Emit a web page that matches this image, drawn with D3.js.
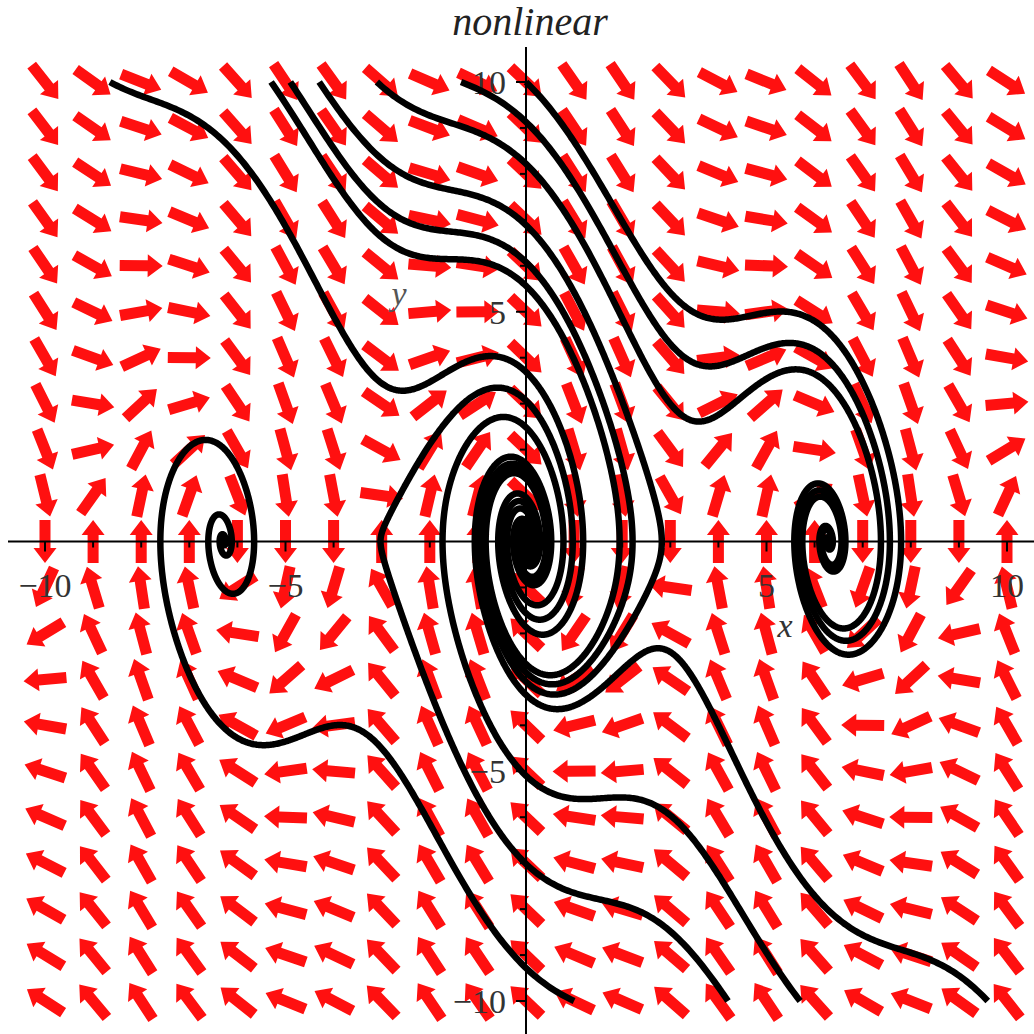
<!DOCTYPE html>
<html>
<head>
<meta charset="utf-8">
<script src="https://cdn.jsdelivr.net/npm/d3@7"></script>
<style>
  html, body { margin: 0; padding: 0; background: #fff; }
  svg { display: block; }
  text { font-family: "Liberation Serif", "DejaVu Serif", serif; }
</style>
</head>
<body>
<svg id="chart" width="1034" height="1034"></svg>
<script>
// damped pendulum: x' = y, y' = -gravity*sin(x) - damping*y
const damping = 1;
const gravity = 6;

// grid of direction-field arrows
const fieldX = [-10, -9, -8, -7, -6, -5, -4, -3, -2, -1, 0, 1, 2, 3, 4, 5, 6, 7, 8, 9, 10];
const fieldY = [-10, -9, -8, -7, -6, -5, -4, -3, -2, -1, 0, 1, 2, 3, 4, 5, 6, 7, 8, 9, 10];

// initial conditions of the solution curves [x0, y0]
const startsTop = [[-8.65, 10], [-5.3, 10], [-4.9, 10], [-4.3, 10], [-3.1, 10], [-1.35, 10], [0, 10]];
const startsBottom = [[1.0, -10], [4.2, -10], [5.7, -10], [9.6, -10]];

const majorTicks = [-10, -5, 5, 10];
const minorTicks = [-10, -9, -8, -7, -6, -5, -4, -3, -2, -1, 1, 2, 3, 4, 5, 6, 7, 8, 9, 10];

const svg = d3.select('#chart');
const x = d3.scaleLinear().domain([-10, 10]).range([45, 1007]);
const y = d3.scaleLinear().domain([-10, 10]).range([1001, 82]);

const field = (px, py) => [py, -gravity * Math.sin(px) - damping * py];

// arrows
const arrowLen = 43, shaftW = 11, headW = 23, headLen = 15;
const arrowPath = () => {
  const h = arrowLen / 2;
  return `M${-h},${-shaftW / 2}L${h - headLen},${-shaftW / 2}L${h - headLen},${-headW / 2}` +
    `L${h},0L${h - headLen},${headW / 2}L${h - headLen},${shaftW / 2}L${-h},${shaftW / 2}Z`;
};
const grid = [];
fieldX.forEach(gx => fieldY.forEach(gy => grid.push([gx, gy])));
svg.append('g')
  .selectAll('path')
  .data(grid)
  .enter()
  .append('path')
  .attr('d', arrowPath())
  .attr('fill', '#ff1010')
  .attr('transform', d => {
    const [vx, vy] = field(d[0], d[1]);
    const dx = x(d[0] + vx * 1e-3) - x(d[0]);
    const dy = y(d[1] + vy * 1e-3) - y(d[1]);
    const ang = Math.atan2(dy, dx) * 180 / Math.PI;
    return `translate(${x(d[0])},${y(d[1])}) rotate(${ang})`;
  });

// axes
const axes = svg.append('g').attr('stroke', '#000').attr('stroke-width', 2);
axes.append('line').attr('x1', 8).attr('x2', 1034).attr('y1', y(0)).attr('y2', y(0));
axes.append('line').attr('x1', x(0)).attr('x2', x(0)).attr('y1', 47).attr('y2', 1034);
axes.selectAll('.tx').data(minorTicks).enter().append('line')
  .attr('x1', d => x(d)).attr('x2', d => x(d))
  .attr('y1', y(0)).attr('y2', d => y(0) + (d % 5 === 0 ? 10 : 6));
axes.selectAll('.ty').data(minorTicks).enter().append('line')
  .attr('y1', d => y(d)).attr('y2', d => y(d))
  .attr('x1', x(0)).attr('x2', d => x(0) - (d % 5 === 0 ? 10 : 6));

const fmt = v => (v < 0 ? '\u2212' : '') + Math.abs(v);
svg.append('g').selectAll('text').data(majorTicks).enter().append('text')
  .attr('x', d => x(d)).attr('y', 597)
  .attr('text-anchor', 'middle').attr('font-size', 34).attr('fill', '#333')
  .text(fmt);
svg.append('g').selectAll('text').data(majorTicks).enter().append('text')
  .attr('x', 506).attr('y', d => y(d) + 12)
  .attr('text-anchor', 'end').attr('font-size', 34).attr('fill', '#333')
  .text(fmt);
svg.append('text').attr('x', 785).attr('y', 637).attr('text-anchor', 'middle')
  .attr('font-size', 34).attr('font-style', 'italic').attr('fill', '#333').text('x');
svg.append('text').attr('x', 399).attr('y', 305).attr('text-anchor', 'middle')
  .attr('font-size', 34).attr('font-style', 'italic').attr('fill', '#555').text('y');

// solution curves (RK4, stop on leaving the window)
const solve = ([x0, y0]) => {
  const pts = [[x0, y0]];
  let px = x0, py = y0;
  const dt = 0.005;
  for (let i = 0; i < 16000; i++) {
    const k1 = field(px, py);
    const k2 = field(px + dt / 2 * k1[0], py + dt / 2 * k1[1]);
    const k3 = field(px + dt / 2 * k2[0], py + dt / 2 * k2[1]);
    const k4 = field(px + dt * k3[0], py + dt * k3[1]);
    px += dt / 6 * (k1[0] + 2 * k2[0] + 2 * k3[0] + k4[0]);
    py += dt / 6 * (k1[1] + 2 * k2[1] + 2 * k3[1] + k4[1]);
    if (px < -10.01 || px > 10.01 || py < -10.01 || py > 10.01) break;
    pts.push([px, py]);
  }
  return pts;
};
const line = d3.line().x(d => x(d[0])).y(d => y(d[1]));
svg.append('g')
  .selectAll('path')
  .data(startsTop.concat(startsBottom).map(solve))
  .enter()
  .append('path')
  .attr('d', line)
  .attr('fill', 'none')
  .attr('stroke', '#000')
  .attr('stroke-width', 6.5)
  .attr('stroke-linejoin', 'round');

svg.append('text').attr('x', 530).attr('y', 35).attr('text-anchor', 'middle')
  .attr('font-size', 40).attr('font-style', 'italic').attr('fill', '#222').text('nonlinear');
</script>
</body>
</html>
